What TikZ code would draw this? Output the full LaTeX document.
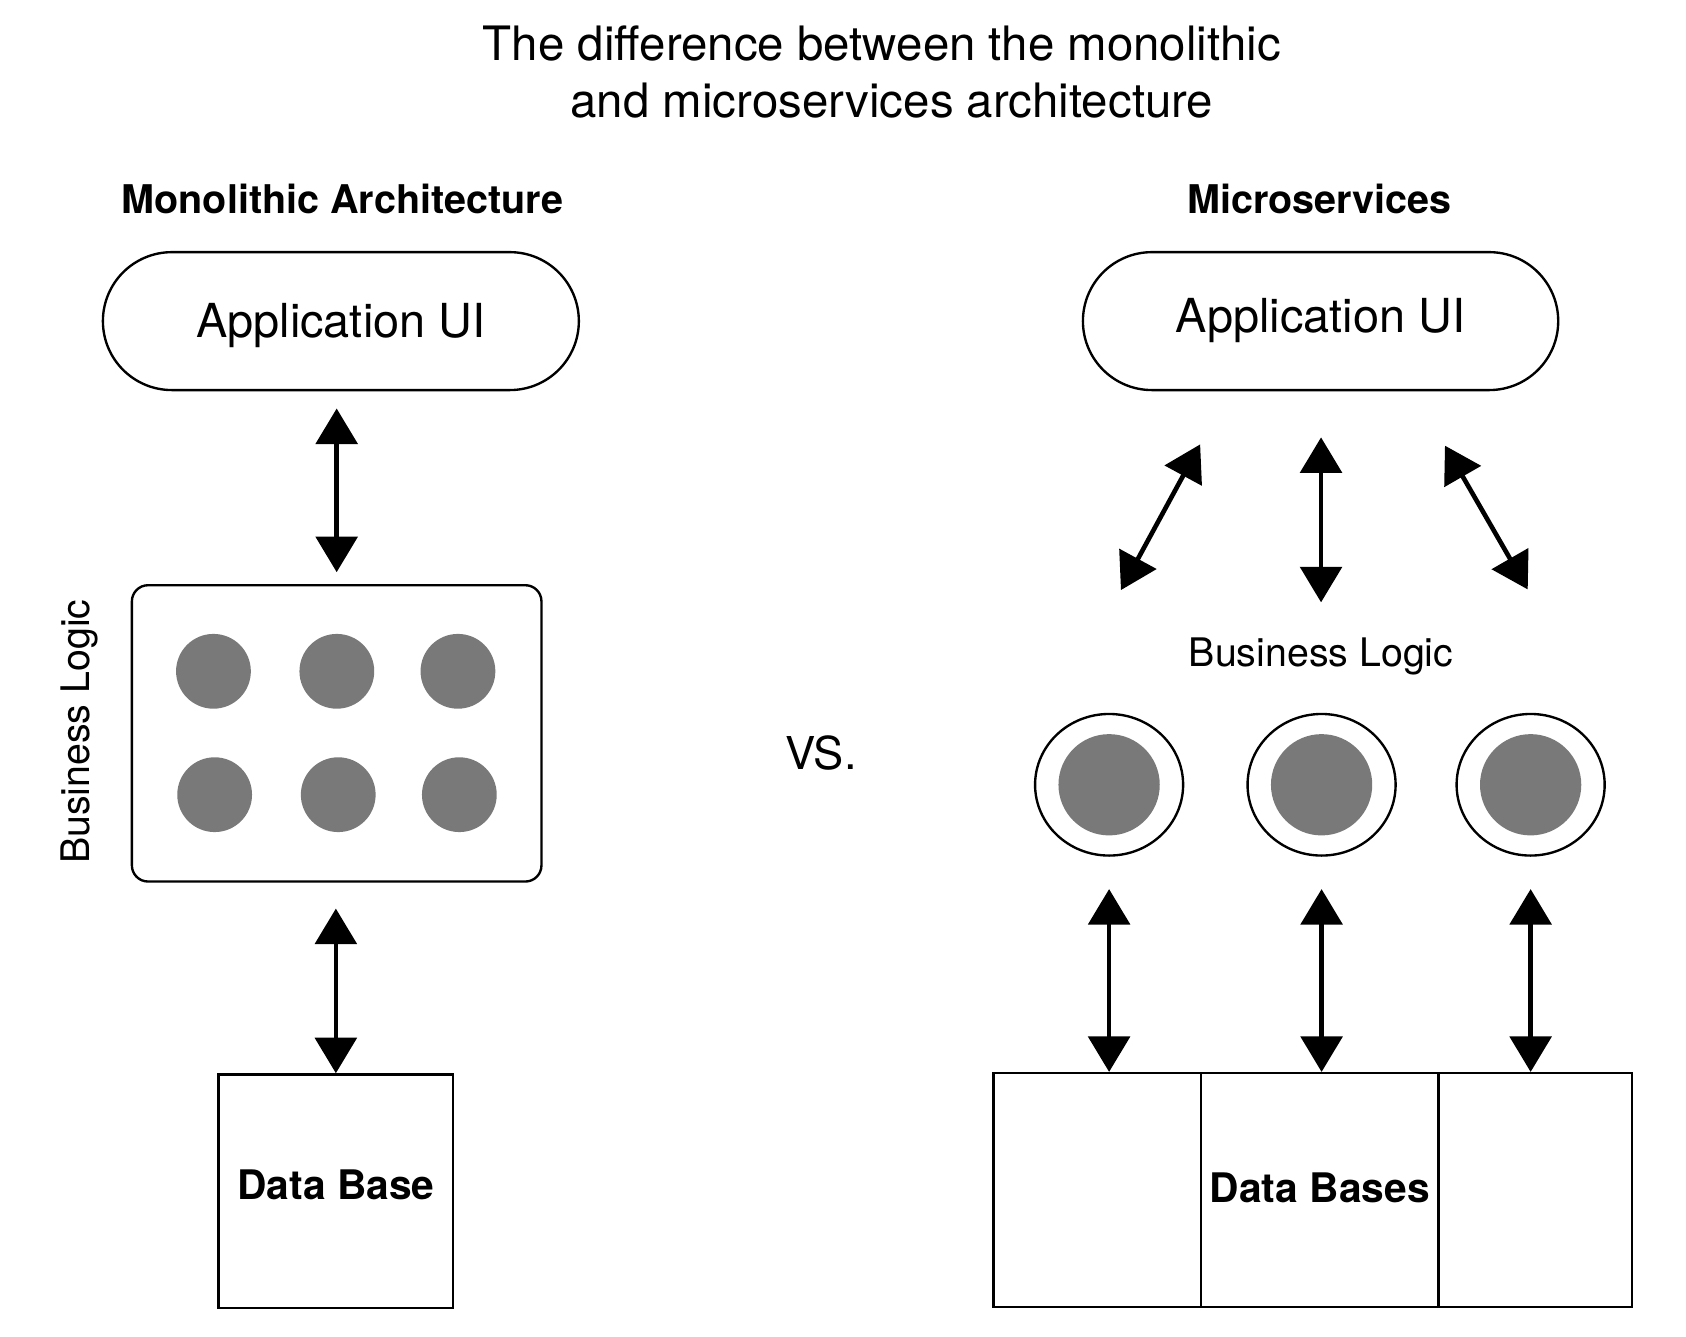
\documentclass[tikz,border=0pt]{standalone}
\usepackage{fontspec}
\setmainfont{TeX Gyre Heros}
\usetikzlibrary{arrows.meta,shapes.geometric}
\definecolor{dotgray}{RGB}{121,121,122}
\begin{document}
\begin{tikzpicture}[x=1pt,y=-1pt,
  shapeline/.style={draw=black, line width=2.2pt},
  titletext/.style={inner sep=0pt, font=\fontsize{44}{53}\selectfont},
  headtext/.style={inner sep=0pt, font=\fontsize{36.7}{44}\selectfont\bfseries},
  pill/.style={shapeline, rectangle, rounded corners=64pt, minimum height=128pt, inner sep=0pt,
    font=\fontsize{43.5}{50}\selectfont, text height=31.2pt},
  bizbox/.style={shapeline, rectangle, rounded corners=15pt, inner sep=0pt},
  dot/.style={circle, fill=dotgray, draw=none, inner sep=0pt, minimum size=69.4pt},
  ring/.style={shapeline, ellipse, inner sep=0pt, minimum width=137.4pt, minimum height=131.4pt},
  core/.style={circle, fill=dotgray, draw=none, inner sep=0pt, minimum size=94pt},
  dbbox/.style={shapeline, rectangle, inner sep=0pt, minimum height=217pt,
    font=\fontsize{37.8}{45}\selectfont\bfseries, text height=27.1pt},
  labeltext/.style={inner sep=0pt, font=\fontsize{36.5}{44}\selectfont},
  biarrow/.style={line width=4.3pt,
    {Triangle[length=33pt,width=38.5pt]}-{Triangle[length=33pt,width=38.5pt]}}
]
\useasboundingbox (0,0) rectangle (1564.7,1240);

% title
\node[titletext, anchor=base] (title1) at (818.4,55.7) {The difference between the monolithic};
\node[titletext, anchor=base] (title2) at (827.7,108.6) {and microservices architecture};

% headings
\node[headtext, anchor=base] (headL) at (317.8,198) {Monolithic Architecture};
\node[headtext, anchor=base] (headR) at (1224.7,198) {Microservices};

% ---------- monolithic ----------
\node[pill, minimum width=441.7pt, text depth=0pt] (appL) at (316.35,298) {Application UI};
\node[bizbox, minimum width=380.1pt, minimum height=275pt] (bizL) at (312.45,680.6) {};
\node[dot] (d11) at (198.1,623) {};
\node[dot] (d12) at (312.6,623) {};
\node[dot] (d13) at (425,623) {};
\node[dot] (d21) at (199.2,737.5) {};
\node[dot] (d22) at (313.9,737.5) {};
\node[dot] (d23) at (426.3,737.5) {};
\node[labeltext, rotate=90, anchor=base] (bizLabelL) at (83.5,679) {Business Logic};
\node[dbbox, minimum width=217.8pt, text depth=11.6pt] (dbL) at (311.7,1105.6) {Data Base};

\draw[biarrow, shorten <=16pt, shorten >=11pt] (bizL.north |- appL.south) -- (bizL.north);
\draw[biarrow, shorten <=24pt] (bizL.south -| dbL.north) -- (dbL.north);

% vs
\node[inner sep=0pt, font=\fontsize{42}{50}\selectfont, anchor=base] (vs) at (761.8,714) {VS.};

% ---------- microservices ----------
\node[pill, minimum width=441.1pt, text depth=10pt] (appR) at (1225.55,298) {Application UI};

\coordinate (mt1) at (1113.8,412.4);
\coordinate (mb1) at (1040.3,547.6);
\coordinate (mt2) at (1226,405.9);
\coordinate (mb2) at (1226,559);
\coordinate (mt3) at (1341,413.6);
\coordinate (mb3) at (1417.8,547);
\draw[biarrow] (mt1) -- (mb1);
\draw[biarrow] (mt2) -- (mb2);
\draw[biarrow] (mt3) -- (mb3);

\node[labeltext, anchor=base] (bizLabelR) at (1226,618.7) {Business Logic};

\node[ring] (ms1) at (1029.3,728.3) {};
\node[ring] (ms2) at (1226.5,728.3) {};
\node[ring] (ms3) at (1420.5,728.3) {};
\node[core] (c1) at (ms1.center) {};
\node[core] (c2) at (ms2.center) {};
\node[core] (c3) at (ms3.center) {};

\node[dbbox, minimum width=192.7pt] (dbR1) at (1018.35,1104.4) {};
\node[dbbox, minimum width=220.3pt, text depth=4.4pt] (dbR2) at (1224.85,1104.4) {Data Bases};
\node[dbbox, minimum width=179.6pt] (dbR3) at (1424.8,1104.4) {};

\draw[biarrow, shorten <=30pt] (ms1.south) -- (ms1.south |- dbR1.north);
\draw[biarrow, shorten <=30pt] (ms2.south) -- (ms2.south |- dbR2.north);
\draw[biarrow, shorten <=30pt] (ms3.south) -- (ms3.south |- dbR3.north);
\end{tikzpicture}
\end{document}
